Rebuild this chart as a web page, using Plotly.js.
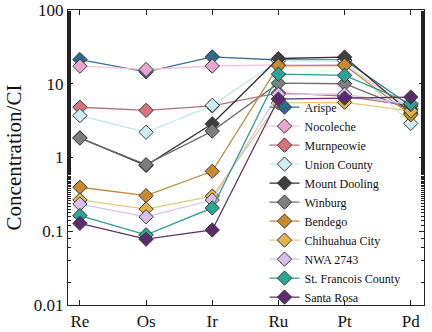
<!DOCTYPE html>
<html><head><meta charset="utf-8">
<script src="https://cdn.plot.ly/plotly-3.0.1.min.js"></script>
<style>body{margin:0;padding:0;background:#fff}#c{width:432px;height:332px}</style>
</head><body><div id="c"></div>
<script>
const elements = ["Re","Os","Ir","Ru","Pt","Pd"];
const names = ["Arispe","Nocoleche","Murnpeowie","Union County","Mount Dooling","Winburg","Bendego","Chihuahua City","NWA 2743","St. Francois County","Santa Rosa"];
const arispe      = [21.3, 14.5, 23.2, 21, 21, 5.0];
const nocoleche   = [17.3, 15.6, 17.4, 18, 18, 4.6];
const murnpeowie  = [4.8, 4.35, 5.0, 7.5, 6.8, 5.0];
const unionCounty = [3.7, 2.2, 5.1, 20.5, 20.5, 2.9];
const mountDooling= [1.85, 0.78, 2.87, 22, 23, 4.0];
const winburg     = [1.83, 0.8, 2.28, 10.2, 10, 4.4];
const bendego     = [0.395, 0.304, 0.65, 17.5, 17.8, 3.8];
const chihuahua   = [0.266, 0.2, 0.30, 5.5, 5.6, 4.3];
const nwa2743     = [0.234, 0.157, 0.265, 7.2, 7.2, 5.2];
const stFrancois  = [0.163, 0.0895, 0.207, 13.5, 13, 5.4];
const santaRosa   = [0.128, 0.078, 0.104, 6.2, 6.4, 6.6];
const series = [arispe,nocoleche,murnpeowie,unionCounty,mountDooling,winburg,bendego,chihuahua,nwa2743,stFrancois,santaRosa];
const markerColors = ["#2D6A8C","#EBA6CF","#D9747E","#CDEEF2","#3E3E3E","#7E7E7E","#C98A2E","#E6B24C","#D9BDEB","#2BA596","#5B2B6B"];
const lineColors   = ["#3C6F8E","#F0C4DC","#B0727A","#C6E6EC","#2E2E2E","#6E6E6E","#C08A3A","#E8C77A","#D8C4E6","#2E9C8E","#5B3366"];

const traces = series.map((s,i)=>({
  type:'scatter', mode:'lines+markers', name:names[i],
  x: elements, y: s,
  line:{color:lineColors[i], width:1.3},
  marker:{symbol:'diamond', size:11, color:markerColors[i], line:{color:'#3a3a3a', width:1}}
}));

const serif = 'Liberation Serif';
const layout = {
  width:432, height:332,
  margin:{l:68, r:8, t:10, b:27, autoexpand:false},
  paper_bgcolor:'#fff', plot_bgcolor:'#fff',
  font:{family:serif, color:'#111'},
  showlegend:true,
  legend:{x:0.552, y:0.72, xanchor:'left', yanchor:'top', bgcolor:'rgba(0,0,0,0)',
          font:{family:serif, size:12, color:'#111'}, tracegroupgap:0, itemwidth:30},
  xaxis:{type:'category', range:[-0.18,5.2], showline:true, linecolor:'#222', linewidth:1.2,
         mirror:'ticks', ticks:'inside', ticklen:5, tickcolor:'#222', showgrid:false, zeroline:false,
         tickfont:{family:serif, size:17, color:'#111'}},
  yaxis:{type:'log', range:[-2,2], showline:true, linecolor:'#222', linewidth:1.2,
         mirror:'allticks', ticks:'inside', ticklen:5, tickcolor:'#222', showgrid:false, zeroline:false,
         tickvals:[0.01,0.1,1,10,100], ticktext:['0.01','0.1','1','10','100'],
         tickfont:{family:serif, size:17, color:'#111'},
         minor:{ticks:'inside', ticklen:3, tickcolor:'#222', showgrid:false},
         title:{text:'Concentration/CI', font:{family:serif, size:21, color:'#111'}, standoff:6}}
};
Plotly.newPlot('c', traces, layout, {displayModeBar:false, staticPlot:true});
</script></body></html>
